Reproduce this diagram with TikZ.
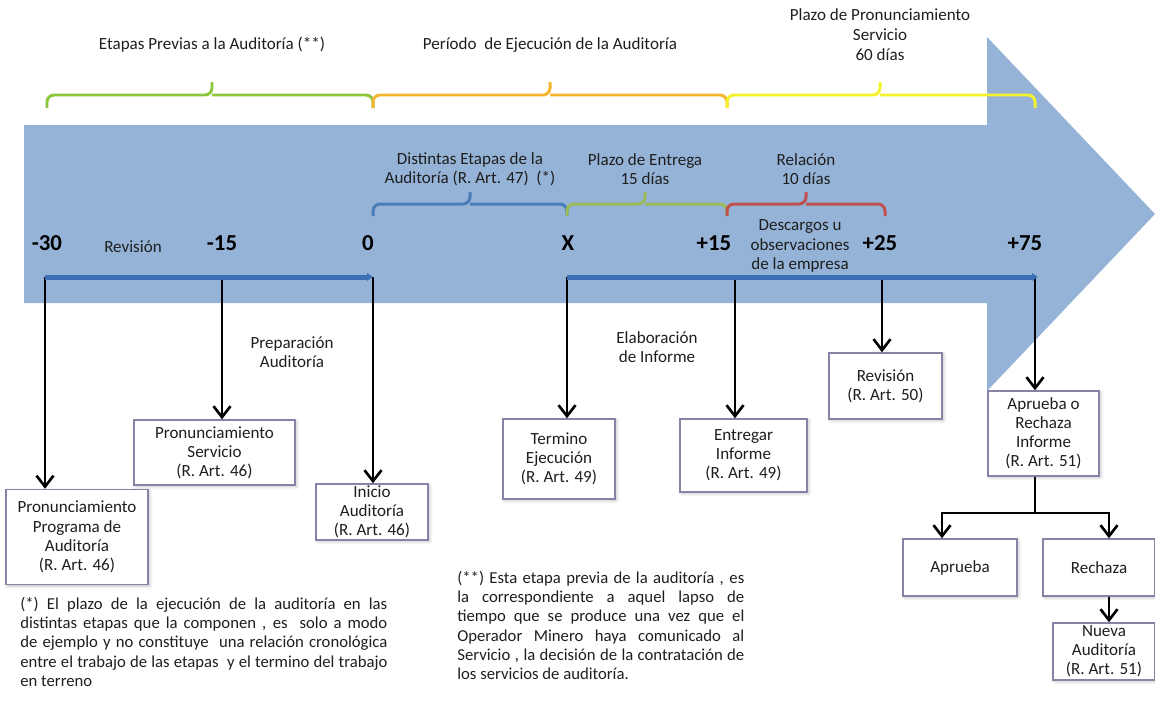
\documentclass[tikz,border=0pt]{standalone}
\usepackage{fontspec}
\setmainfont{Carlito}
\usepackage{xcolor}
\definecolor{arrowBlue}{HTML}{95B3D7}
\definecolor{lineBlue}{HTML}{3C6FB6}
\definecolor{braceGreen}{HTML}{8CC63F}
\definecolor{braceOrange}{HTML}{F5B52E}
\definecolor{braceYellow}{HTML}{F4F22A}
\definecolor{braceBlue}{HTML}{4A7EBB}
\definecolor{braceLime}{HTML}{9BBB59}
\definecolor{braceRed}{HTML}{C0504D}
\definecolor{boxBorder}{HTML}{8782A6}
\definecolor{darkText}{HTML}{1E1E1E}
\usepackage{tikz}
\usetikzlibrary{
    arrows.meta,
    shadows.blur,
    positioning,
    calc
}
\tikzset{
    % Base style for all texts
    base text/.style={
        font={\fontsize{9.7}{10.9}\selectfont},
        text=darkText,
        align=center,
        inner sep=0pt,
    },
    % Labels above the braces
    top label/.style={
        base text,
        font={\fontsize{9.7}{11.4}\selectfont},
    },
    % Bold day numbers on the time line
    tick num/.style={
        font={\fontsize{13}{15}\selectfont\bfseries},
        text=black,
        inner sep=0pt,
    },
    % Event boxes - white with thin purple-gray border
    eventbox/.style={
        base text,
        rectangle,
        draw=boxBorder,
        fill=white,
        line width=0.8pt,
        inner sep=1pt,
        blur shadow={
            shadow xshift=0.3mm,
            shadow yshift=-0.3mm,
            shadow blur steps=4,
            shadow opacity=25
        },
    },
    % Footnotes - justified paragraphs
    note text/.style={
        base text,
        font={\fontsize{9.5}{10.9}\selectfont},
        align=justify,
        anchor=north west,
    },
    % Curly period markers
    brace line/.style={
        draw=#1,
        line width=1.7pt,
        rounded corners=4pt,
    },
    % Blue time line
    timeline/.style={
        draw=lineBlue,
        line width=1mm,
        -{Triangle[length=1.2mm, width=1.5mm]},
    },
    % Black arrows down to the events
    eventarrow/.style={
        draw=black,
        line width=1.5pt,
        -{Straight Barb[length=2.2mm, width=3.4mm, line width=1.5pt]},
    },
    eventline/.style={
        draw=black,
        line width=1.5pt,
    },
}

\begin{document}
\begin{tikzpicture}[x=0.2mm, y=-0.2mm]
    \useasboundingbox (0,0) rectangle (1155,702);

    % big background arrow
    \fill[arrowBlue] (24,125) -- (987,125) -- (987,37) -- (1155,214)
        -- (987,391) -- (987,303) -- (24,303) -- cycle;

    % period braces on top
    \draw[brace line=braceGreen] (47,108) |- (212,95) -- (212,82) (212,95) -| (373,108);
    \draw[brace line=braceOrange] (373,108) |- (550,95) -- (550,82) (550,95) -| (727,108);
    \draw[brace line=braceYellow] (727,108) |- (880,95) -- (880,82) (880,95) -| (1035,108);

    \node (lblPrevias) [top label] at (212,45) {Etapas Previas a la Auditoría (**)};
    \node (lblPeriodo) [top label] at (550,45) {Período~ de Ejecución de la Auditoría};
    \node (lblPlazo) [top label] at (880,35) {Plazo de Pronunciamiento\\Servicio\\60 días};

    % braces inside the arrow
    \draw[brace line=braceBlue] (373,216) |- (470,204) -- (470,192) (470,204) -| (567,216);
    \draw[brace line=braceLime] (567,216) |- (645,204) -- (645,192) (645,204) -| (727,216);
    \draw[brace line=braceRed] (727,216) |- (806,204) -- (806,192) (806,204) -| (885,216);

    \node (lblEtapas) [base text] at (470,169) {Distintas Etapas de la\\Auditoría (R. Art. 47)~ (*)};
    \node (lblEntrega) [base text] at (645,169) {Plazo de Entrega\\15 días};
    \node (lblRelacion) [base text] at (806,169) {Relación\\10 días};

    % day numbers
    \node (n30) [tick num] at (47,243) {-30};
    \node (n15) [tick num] at (222,243) {-15};
    \node (n0) [tick num] at (368,243) {0};
    \node (nX) [tick num] at (568,243) {X};
    \node (p15) [tick num] at (714,243) {+15};
    \node (p25) [tick num] at (880,243) {+25};
    \node (p75) [tick num] at (1025,243) {+75};

    \node (lblRevision) [base text] at (133,247) {Revisión};
    \node (lblDescargos) [base text] at (800,246) {Descargos u\\observaciones\\de la empresa};
    \node (lblPreparacion) [base text] at (292,352) {Preparación\\Auditoría};
    \node (lblElaboracion) [base text] at (657,347) {Elaboración\\de Informe};

    % time line points
    \coordinate (tA) at (45,277);
    \coordinate (tB) at (222,277);
    \coordinate (tC) at (373,277);
    \coordinate (tD) at (567,277);
    \coordinate (tE) at (735,277);
    \coordinate (tF) at (882,277);
    \coordinate (tG) at (1035,277);

    % event boxes
    \node (boxProg) [eventbox, minimum width=28.4mm, minimum height=19mm] at (77,537)
        {Pronunciamiento\\Programa de\\Auditoría\\(R. Art. 46)};
    \node (boxServ) [eventbox, minimum width=32.2mm, minimum height=13mm] at (214.5,452.5)
        {Pronunciamiento\\Servicio\\(R. Art. 46)};
    \node (boxInicio) [eventbox, minimum width=22.4mm, minimum height=11.2mm] at (372,512)
        {Inicio\\Auditoría\\(R. Art. 46)};
    \node (boxTerm) [eventbox, minimum width=22.4mm, minimum height=16mm] at (559,459)
        {Termino\\Ejecución\\(R. Art. 49)};
    \node (boxEntr) [eventbox, minimum width=25.4mm, minimum height=14.6mm] at (743.5,455.5)
        {Entregar\\Informe\\(R. Art. 49)};
    \node (boxRevi) [eventbox, minimum width=22.6mm, minimum height=13.2mm] at (885.5,386)
        {Revisión\\(R. Art. 50)};
    \node (boxApRe) [eventbox, minimum width=22.2mm, minimum height=17mm] at (1043.5,433.5)
        {Aprueba o\\Rechaza\\Informe\\(R. Art. 51)};
    \node (boxAprueba) [eventbox, minimum width=22.8mm, minimum height=11.4mm] at (960,567.5)
        {Aprueba};
    \node (boxRechaza) [eventbox, minimum width=22.4mm, minimum height=11.4mm] at (1099,567.5)
        {Rechaza};
    \node (boxNueva) [eventbox, minimum width=20.4mm, minimum height=11.4mm] at (1104,651.5)
        {Nueva\\Auditoría\\(R. Art. 51)};

    % arrows from the time line
    \draw[eventarrow] (tA) -- (tA |- boxProg.north);
    \draw[eventarrow] (tB) -- (tB |- boxServ.north);
    \draw[eventarrow] (tC) -- (tC |- boxInicio.north);
    \draw[eventarrow] (tD) -- (tD |- boxTerm.north);
    \draw[eventarrow] (tE) -- (tE |- boxEntr.north);
    \draw[eventarrow] (tF) -- (tF |- boxRevi.north);
    \draw[eventarrow] (tG) -- (tG |- boxApRe.north);

    % approve / reject split
    \coordinate (split) at (1035,513);
    \coordinate (dropL) at (942,513);
    \coordinate (dropR) at (1109,513);
    \draw[eventline] (tG |- boxApRe.south) -- (split);
    \draw[eventarrow] (split) -| (dropL |- boxAprueba.north);
    \draw[eventarrow] (split) -| (dropR |- boxRechaza.north);
    \draw[eventarrow] (dropR |- boxRechaza.south) -- (dropR |- boxNueva.north);

    % blue time lines
    \draw[timeline] (tA) -- (tC);
    \draw[timeline] (tD) -- ($(tG)+(3,0)$);

    % footnotes
    \node (noteA) [note text, text width=73.4mm] at (20,597)
        {(*) El plazo de la ejecución de la auditoría en las\linebreak
        distintas etapas que la componen , es~ solo a modo\linebreak
        de ejemplo y no constituye~ una relación cronológica\linebreak
        entre el trabajo de las etapas~ y el termino del trabajo\linebreak
        en terreno};
    \node (noteB) [note text, text width=57.4mm] at (457,571)
        {(**) Esta etapa previa de la auditoría , es\linebreak
        la correspondiente a aquel lapso de\linebreak
        tiempo que se produce una vez que el\linebreak
        Operador Minero haya comunicado al\linebreak
        Servicio , la decisión de la contratación de\linebreak
        los servicios de auditoría.};
\end{tikzpicture}
\end{document}
